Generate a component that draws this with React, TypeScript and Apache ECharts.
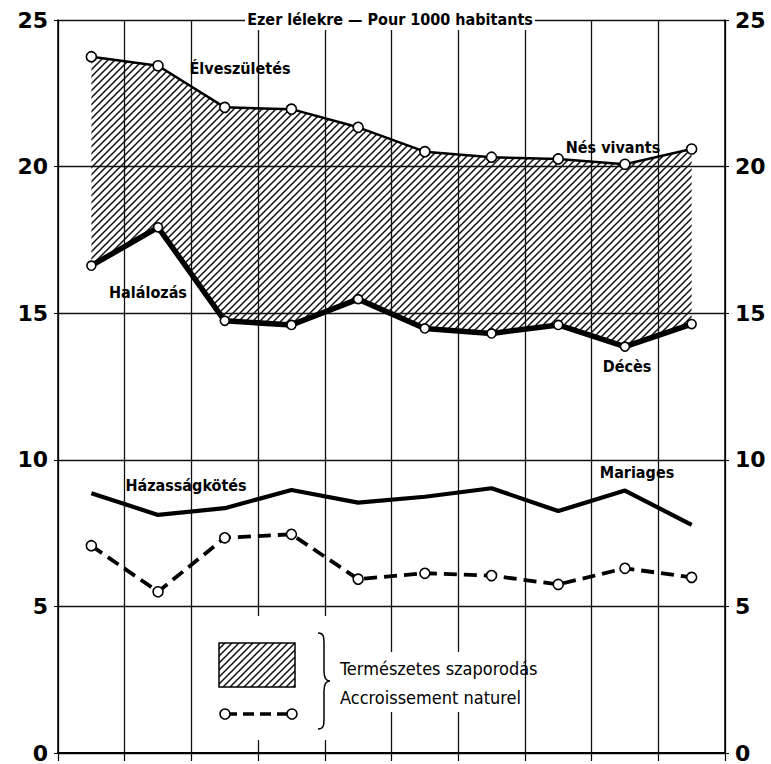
import React, { useEffect, useRef } from 'react';
import * as echarts from 'echarts';

const categories = ['1', '2', '3', '4', '5', '6', '7', '8', '9', '10'];
const births = [23.75, 23.44, 22.02, 21.96, 21.34, 20.51, 20.32, 20.26, 20.08, 20.6];
const deaths = [16.62, 17.93, 14.74, 14.6, 15.48, 14.48, 14.31, 14.6, 13.86, 14.63];
const marriages = [8.86, 8.12, 8.35, 8.97, 8.54, 8.74, 9.03, 8.25, 8.95, 7.78];
const naturalIncrease = [7.07, 5.5, 7.34, 7.46, 5.93, 6.13, 6.05, 5.75, 6.3, 5.99];
const yMin = 0;
const yMax = 25;
const yStep = 5;

const titleText = 'Ezer lélekre — Pour 1000 habitants';
const legendLine1 = 'Természetes szaporodás';
const legendLine2 = 'Accroissement naturel';

const NARROW = '"Liberation Sans Narrow", "DejaVu Sans Condensed", "Liberation Sans", sans-serif';

function makeHatch(): HTMLCanvasElement {
  const s = 7;
  const c = document.createElement('canvas');
  c.width = s;
  c.height = s;
  const ctx = c.getContext('2d')!;
  ctx.strokeStyle = '#111';
  ctx.lineWidth = 1.5;
  ctx.beginPath();
  ctx.moveTo(-1, s + 1);
  ctx.lineTo(s + 1, -1);
  ctx.moveTo(-1, 1);
  ctx.lineTo(1, -1);
  ctx.moveTo(s - 1, s + 1);
  ctx.lineTo(s + 1, s - 1);
  ctx.stroke();
  return c;
}

const bracePath =
  'M0,0 C6,0 6,4 6,12 L6,38 C6,45 8,48 12,48 C8,48 6,51 6,58 L6,84 C6,92 6,96 0,96';

let braceRegistered = false;

export default function App() {
  const ref = useRef<HTMLDivElement>(null);
  useEffect(() => {
    if (!ref.current) return;
    if (!braceRegistered) {
      echarts.graphic.registerShape('brace', echarts.graphic.extendPath(bracePath, {}) as any);
      braceRegistered = true;
    }
    const chart = echarts.init(ref.current, undefined, { renderer: 'svg' });
    const hatch = makeHatch();
    const pattern = { image: hatch, repeat: 'repeat', imageWidth: 7, imageHeight: 7 } as any;
    const band = births.map((b, i) => +(b - deaths[i]).toFixed(2));

    const labelStyle = (text: string, x: number, y: number) => ({
      type: 'text',
      x,
      y,
      z: 50,
      style: {
        text,
        x: 0,
        y: 0,
        align: 'center',
        verticalAlign: 'middle',
        fontFamily: NARROW,
        fontWeight: 'bold',
        fontSize: 16,
        fill: '#000',
      },
    });

    const axisCommon = {
      type: 'value',
      min: yMin,
      max: yMax,
      interval: yStep,
    };

    const yLabel = {
      margin: 10,
      color: '#000',
      fontFamily: '"DejaVu Sans", sans-serif',
      fontWeight: 600,
      fontSize: 22,
    };

    const option: any = {
      animation: false,
      backgroundColor: '#fff',
      grid: { left: 58, right: 46, top: 20, bottom: 11, containLabel: false },
      xAxis: {
        type: 'category',
        data: categories,
        boundaryGap: true,
        axisLine: { show: true, lineStyle: { color: '#000', width: 2 } },
        axisTick: { show: true, length: 8, interval: 0, lineStyle: { color: '#000', width: 1.2 } },
        axisLabel: { show: false },
        splitLine: { show: true, interval: 0, lineStyle: { color: '#111', width: 1.3 } },
      },
      yAxis: [
        {
          ...axisCommon,
          position: 'left',
          axisLine: { show: true, lineStyle: { color: '#000', width: 1.5 } },
          axisTick: { show: true, length: 4, lineStyle: { color: '#000' } },
          axisLabel: yLabel,
          splitLine: { show: true, lineStyle: { color: '#111', width: 1.3 } },
        },
        {
          ...axisCommon,
          position: 'right',
          axisLine: { show: true, lineStyle: { color: '#000', width: 1.5 } },
          axisTick: { show: true, length: 4, lineStyle: { color: '#000' } },
          axisLabel: { ...yLabel, padding: [0, 0, 9, 0] },
          splitLine: { show: false },
        },
      ],
      series: [
        {
          name: 'base',
          type: 'line',
          stack: 'band',
          data: deaths,
          symbol: 'none',
          lineStyle: { opacity: 0 },
          silent: true,
          z: 1,
        },
        {
          name: legendLine1,
          type: 'line',
          stack: 'band',
          data: band,
          symbol: 'none',
          lineStyle: { opacity: 0 },
          areaStyle: { color: pattern, opacity: 1 },
          silent: true,
          z: 1,
        },
        {
          name: 'Élveszületés',
          type: 'line',
          data: births,
          symbol: 'circle',
          symbolSize: 10,
          lineStyle: { color: '#000', width: 2.5 },
          itemStyle: { color: '#fff', borderColor: '#000', borderWidth: 1.6 },
          z: 5,
        },
        {
          name: 'Halálozás',
          type: 'line',
          data: deaths,
          symbol: 'circle',
          symbolSize: 9,
          lineStyle: { color: '#000', width: 5.5 },
          itemStyle: { color: '#fff', borderColor: '#000', borderWidth: 1.6 },
          z: 5,
        },
        {
          name: 'Házasságkötés',
          type: 'line',
          data: marriages,
          symbol: 'none',
          lineStyle: { color: '#000', width: 4.2 },
          z: 5,
        },
        {
          name: legendLine2,
          type: 'line',
          data: naturalIncrease,
          symbol: 'circle',
          symbolSize: 10,
          lineStyle: { color: '#000', width: 3.8, type: [13, 7] },
          itemStyle: { color: '#fff', borderColor: '#000', borderWidth: 1.6 },
          z: 5,
        },
      ],
      graphic: [
        { type: 'rect', z: 40, shape: { x: 245, y: 6, width: 290, height: 24 }, style: { fill: '#fff' } },
        {
          type: 'text',
          x: 390,
          y: 19,
          z: 50,
          style: {
            text: titleText,
            align: 'center',
            verticalAlign: 'middle',
            fontFamily: NARROW,
            fontWeight: 'bold',
            fontSize: 16,
            fill: '#000',
          },
        },
        labelStyle('Élveszületés', 240, 68),
        labelStyle('Nés vivants', 613, 147),
        labelStyle('Halálozás', 148, 292),
        labelStyle('Décès', 627, 366),
        labelStyle('Házasságkötés', 186, 485),
        labelStyle('Mariages', 637, 472),
        // legend background
        { type: 'rect', z: 40, shape: { x: 205, y: 616, width: 125, height: 124 }, style: { fill: '#fff' } },
        { type: 'rect', z: 40, shape: { x: 330, y: 652, width: 133, height: 60 }, style: { fill: '#fff' } },
        {
          type: 'rect',
          z: 45,
          shape: { x: 219, y: 643, width: 76, height: 44 },
          style: { fill: pattern, stroke: '#000', lineWidth: 1.5 },
        },
        {
          type: 'line',
          z: 45,
          shape: { x1: 226, y1: 714, x2: 291, y2: 714 },
          style: { stroke: '#000', lineWidth: 3.5, lineDash: [11, 6] },
        },
        { type: 'circle', z: 46, shape: { cx: 225, cy: 714, r: 5 }, style: { fill: '#fff', stroke: '#000', lineWidth: 1.6 } },
        { type: 'circle', z: 46, shape: { cx: 292, cy: 714, r: 5 }, style: { fill: '#fff', stroke: '#000', lineWidth: 1.6 } },
        {
          type: 'brace',
          z: 46,
          x: 318,
          y: 633,
          style: { fill: 'none', stroke: '#000', lineWidth: 1.5 },
        },
        {
          type: 'text',
          x: 340,
          y: 668,
          z: 50,
          style: { text: legendLine1, align: 'left', verticalAlign: 'middle', fontFamily: NARROW, fontSize: 18, fill: '#000' },
        },
        {
          type: 'text',
          x: 340,
          y: 697,
          z: 50,
          style: { text: legendLine2, align: 'left', verticalAlign: 'middle', fontFamily: NARROW, fontSize: 18, fill: '#000' },
        },
      ],
    };
    chart.setOption(option);
    return () => chart.dispose();
  }, []);
  return (
    <div
      ref={ref}
      style={{ position: 'fixed', left: 0, top: 0, width: 771, height: 764, background: '#fff' }}
    />
  );
}
